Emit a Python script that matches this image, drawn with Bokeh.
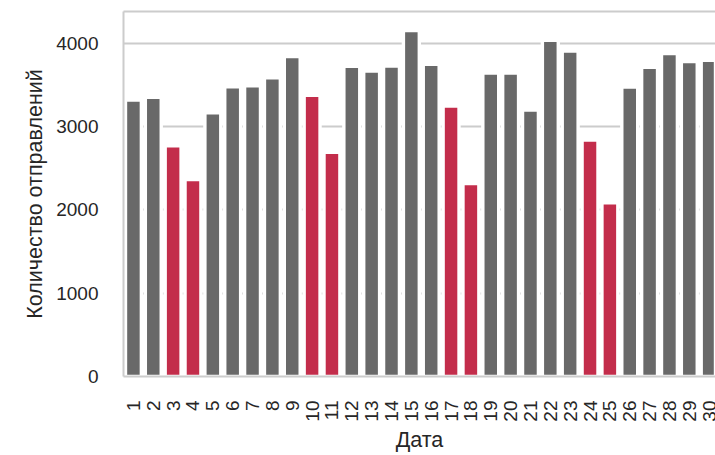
import math
from bokeh.plotting import figure
from bokeh.models import ColumnDataSource, Range1d, FixedTicker, LinearAxis
from bokeh.embed import file_html
from bokeh.resources import INLINE

days = list(range(1, 31))
counts = [3317, 3349, 2768, 2364, 3165, 3477, 3489, 3585, 3838, 3373,
          2689, 3722, 3666, 3726, 4150, 3746, 3245, 2316, 3642, 3642,
          3197, 4035, 3906, 2837, 2083, 3474, 3710, 3874, 3778, 3794]
weekend_days = [3, 4, 10, 11, 17, 18, 24, 25]
y_ticks = [0, 1000, 2000, 3000, 4000]

GRAY = "#696969"
RED = "#C32D4B"
colors = [RED if d in weekend_days else GRAY for d in days]

src = ColumnDataSource(dict(day=days, count=counts, color=colors))

FONT = "Liberation Sans"
TXT = "#262626"
SPINE = "#cccccc"

p = figure(width=715, height=455, output_backend="svg", toolbar_location=None,
           x_range=Range1d(0.5, 30.32), y_range=Range1d(0, 4380),
           min_border_left=123, min_border_right=0, min_border_top=11, min_border_bottom=79)
p.outline_line_color = None
p.background_fill_color = "white"
p.border_fill_color = "white"

p.vbar(x="day", top="count", width=0.8, source=src, fill_color="color",
       line_color="white", line_width=3.4)

p.xgrid.visible = False
p.ygrid.ticker = FixedTicker(ticks=y_ticks)
p.ygrid.grid_line_color = SPINE
p.ygrid.grid_line_width = 2

for ax in (p.xaxis[0], p.yaxis[0]):
    ax.axis_line_color = SPINE
    ax.axis_line_width = 2
    ax.major_tick_out = 0
    ax.major_tick_in = 0
    ax.minor_tick_out = 0
    ax.minor_tick_in = 0
    ax.major_label_text_font = FONT
    ax.major_label_text_font_size = "19px"
    ax.major_label_text_color = TXT
    ax.axis_label_text_font = FONT
    ax.axis_label_text_font_size = "21.5px"
    ax.axis_label_text_font_style = "normal"
    ax.axis_label_text_color = TXT

p.xaxis.ticker = FixedTicker(ticks=days)
p.xaxis.major_label_orientation = math.pi / 2
p.xaxis.major_label_standoff = 24
p.xaxis.axis_label = "Дата"
p.xaxis.axis_label_standoff = 3

p.yaxis.ticker = FixedTicker(ticks=y_ticks)
p.yaxis.major_label_standoff = 25
p.yaxis.axis_label = "Количество отправлений"
p.yaxis.axis_label_standoff = 6

top = LinearAxis(ticker=FixedTicker(ticks=[]), axis_line_color=SPINE, axis_line_width=2,
                 major_tick_out=0, major_tick_in=0, minor_tick_out=0, minor_tick_in=0,
                 major_label_text_font_size="0px", major_label_standoff=0)
p.add_layout(top, "above")

open("out.html", "w").write(file_html(p, INLINE))
